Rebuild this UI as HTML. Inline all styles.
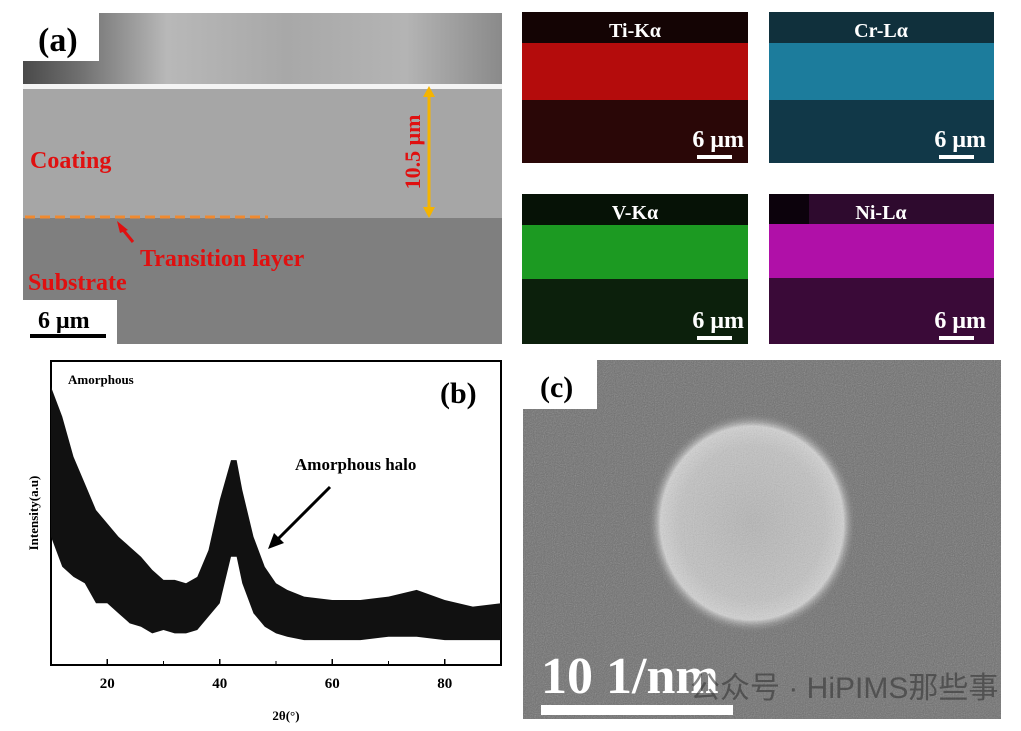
<!DOCTYPE html>
<html><head><meta charset="utf-8">
<style>
html,body{margin:0;padding:0;background:#fff;}
svg{display:block;font-family:"Liberation Serif","Noto Serif CJK SC",serif;font-weight:bold;}
</style></head>
<body>
<svg width="1021" height="731" viewBox="0 0 1021 731">
<defs>
<linearGradient id="topg" x1="0" x2="1" y1="0" y2="0">
<stop offset="0" stop-color="#4a4a4a"/><stop offset="0.12" stop-color="#707070"/><stop offset="0.3" stop-color="#b8b8b8"/><stop offset="0.55" stop-color="#a8a8a8"/><stop offset="0.8" stop-color="#b4b4b4"/><stop offset="1" stop-color="#8a8a8a"/>
</linearGradient>
<radialGradient id="halo" cx="0.5" cy="0.5" r="0.5">
<stop offset="0" stop-color="#b4b4b4"/><stop offset="0.7" stop-color="#c2c2c2"/><stop offset="0.88" stop-color="#d2d2d2"/><stop offset="1" stop-color="#6c6c6c" stop-opacity="0"/>
</radialGradient>
<filter id="noise" filterUnits="userSpaceOnUse" x="523" y="360" width="478" height="359"><feTurbulence type="fractalNoise" baseFrequency="0.9" numOctaves="1" seed="3"/><feColorMatrix type="saturate" values="0"/><feComponentTransfer><feFuncA type="table" tableValues="0 0.45"/></feComponentTransfer></filter>
</defs>

<!-- Panel a: SEM -->
<g>
<rect x="23" y="13" width="479" height="71" fill="url(#topg)"/>
<rect x="23" y="84" width="479" height="5" fill="#f4f4f4"/>
<rect x="23" y="89" width="479" height="129" fill="#a6a6a6"/>
<rect x="23" y="218" width="479" height="126" fill="#7f7f7f"/>
<rect x="23" y="13" width="76" height="48" fill="#fff"/>
<text x="38" y="51" font-size="34" fill="#000">(a)</text>
<text x="30" y="168" font-size="24" fill="#e01010">Coating</text>
<line x1="25" y1="217" x2="268" y2="217" stroke="#f08a30" stroke-width="3" stroke-dasharray="10,5"/>
<line x1="133" y1="242" x2="120" y2="226" stroke="#e01010" stroke-width="3"/>
<polygon points="117,221 128,230 120,233" fill="#e01010"/>
<text x="140" y="266" font-size="24" fill="#e01010">Transition layer</text>
<text x="28" y="290" font-size="24" fill="#e01010">Substrate</text>
<line x1="429" y1="92" x2="429" y2="212" stroke="#f5b400" stroke-width="3"/>
<polygon points="429,86 423,97 435,97" fill="#f5b400"/><polygon points="429,218 423,207 435,207" fill="#f5b400"/>
<text transform="translate(420,152) rotate(-90)" text-anchor="middle" font-size="22" fill="#e01010">10.5 μm</text>
<rect x="23" y="300" width="94" height="44" fill="#fff"/>
<text x="38" y="328" font-size="24" fill="#000">6 μm</text>
<rect x="30" y="334" width="76" height="4" fill="#000"/>
</g>

<!-- EDS maps -->
<g>
<rect x="522" y="12" width="226" height="31" fill="#140404"/><rect x="522" y="43" width="226" height="57" fill="#b40c0c"/><rect x="522" y="100" width="226" height="63" fill="#2a0707"/>
<text x="635" y="37" text-anchor="middle" font-size="20" fill="#fff">Ti-Kα</text>
<text x="744" y="147" text-anchor="end" font-size="24" fill="#fff">6 μm</text><rect x="697" y="155" width="35" height="4" fill="#fff"/>
</g>
<g>
<rect x="769" y="12" width="225" height="31" fill="#10303c"/><rect x="769" y="43" width="225" height="57" fill="#1c7c9c"/><rect x="769" y="100" width="225" height="63" fill="#113848"/>
<text x="881" y="37" text-anchor="middle" font-size="20" fill="#fff">Cr-Lα</text>
<text x="986" y="147" text-anchor="end" font-size="24" fill="#fff">6 μm</text><rect x="939" y="155" width="35" height="4" fill="#fff"/>
</g>
<g>
<rect x="522" y="194" width="226" height="31" fill="#061206"/><rect x="522" y="225" width="226" height="54" fill="#1c9a22"/><rect x="522" y="279" width="226" height="65" fill="#0c200c"/>
<text x="635" y="219" text-anchor="middle" font-size="20" fill="#fff">V-Kα</text>
<text x="744" y="328" text-anchor="end" font-size="24" fill="#fff">6 μm</text><rect x="697" y="336" width="35" height="4" fill="#fff"/>
</g>
<g>
<rect x="769" y="194" width="225" height="30" fill="#2e0a2e"/><rect x="769" y="194" width="40" height="30" fill="#0c020c"/><rect x="769" y="224" width="225" height="54" fill="#b010a8"/><rect x="769" y="278" width="225" height="66" fill="#3a0a38"/>
<text x="881" y="219" text-anchor="middle" font-size="20" fill="#fff">Ni-Lα</text>
<text x="986" y="328" text-anchor="end" font-size="24" fill="#fff">6 μm</text><rect x="939" y="336" width="35" height="4" fill="#fff"/>
</g>

<!-- Panel b: XRD -->
<g id="xrd">
<rect x="51" y="361" width="450" height="304" fill="none" stroke="#000" stroke-width="2"/>
<text x="68" y="384" font-size="13" fill="#000">Amorphous</text>
<text x="440" y="403" font-size="30" fill="#000">(b)</text>
<text x="295" y="470" font-size="17" fill="#000">Amorphous halo</text>
<line x1="330" y1="487" x2="277" y2="540" stroke="#000" stroke-width="3"/>
<polygon points="268,549 274,533 284,543" fill="#000"/>
<text x="286" y="720" text-anchor="middle" font-size="13" fill="#000">2θ(°)</text>
<text transform="translate(38,513) rotate(-90)" text-anchor="middle" font-size="13" fill="#000">Intensity(a.u)</text>
</g>

<!-- Panel c: SAED -->
<g>
<rect x="523" y="360" width="478" height="359" fill="#6c6c6c"/>
<ellipse cx="752" cy="523" rx="104" ry="110" fill="url(#halo)"/>
<rect x="523" y="360" width="478" height="359" fill="#000" filter="url(#noise)"/>
<rect x="523" y="360" width="74" height="49" fill="#fff"/>
<text x="540" y="397" font-size="30" fill="#000">(c)</text>
<text x="541" y="693" font-size="52" fill="#fff">10 1/nm</text>
<rect x="541" y="705" width="192" height="10" fill="#fff"/>
<text x="690" y="698" font-size="30" font-weight="normal" fill="#333" fill-opacity="0.6" font-family="'Liberation Sans','Noto Sans CJK SC',sans-serif">公众号 · HiPIMS那些事</text>
</g>
</svg>
<script>
const angles=[10,12,14,16,18,20,22,24,26,28,30,32,34,36,38,40,42,43,44,46,48,50,52,55,60,65,70,75,80,85,90];
const upper=[91.5,81.7,68.5,59.8,51,46.6,42.2,38.9,35.6,31.3,28,28,26.9,29,37.8,54.3,67.4,67.4,57.6,42.2,32.3,26.9,24.7,22.5,21.4,21.4,22.5,24.7,21.4,19.2,20.3];
const lower=[42.2,32.3,29,26.9,20.3,20.3,17,13.7,12.6,10.4,11.5,10.4,10.4,11.5,15.9,20.3,35.6,35.6,26.9,17,12.6,10.4,9.3,8.2,8.2,8.2,9.3,9.3,8.2,8.2,8.2];
const xTicks=[20,40,60,80];
const minorTicks=[30,50,70];
const NS='http://www.w3.org/2000/svg';
const g=document.getElementById('xrd');
const X=a=>51+(a-10)*450/80;
const Y=v=>665-v*3.04;
let d='M'+angles.map((a,i)=>X(a)+','+Y(upper[i])).join(' L');
for(let i=angles.length-1;i>=0;i--)d+=' L'+X(angles[i])+','+Y(lower[i]);
d+=' Z';
const p=document.createElementNS(NS,'path');
p.setAttribute('d',d);p.setAttribute('fill','#111');


g.appendChild(p);
xTicks.forEach(t=>{
 const l=document.createElementNS(NS,'line');
 l.setAttribute('x1',X(t));l.setAttribute('x2',X(t));l.setAttribute('y1',665);l.setAttribute('y2',659);l.setAttribute('stroke','#000');l.setAttribute('stroke-width','1.5');
 
 
 g.appendChild(l);
 const tx=document.createElementNS(NS,'text');
 tx.setAttribute('x',X(t));tx.setAttribute('y',688);tx.setAttribute('text-anchor','middle');tx.setAttribute('font-size','15');
 tx.textContent=t;
 
 
 g.appendChild(tx);
});
minorTicks.forEach(t=>{
 const l=document.createElementNS(NS,'line');
 l.setAttribute('x1',X(t));l.setAttribute('x2',X(t));l.setAttribute('y1',665);l.setAttribute('y2',661);l.setAttribute('stroke','#000');
 
 
 g.appendChild(l);
});
</script>
</body></html>
